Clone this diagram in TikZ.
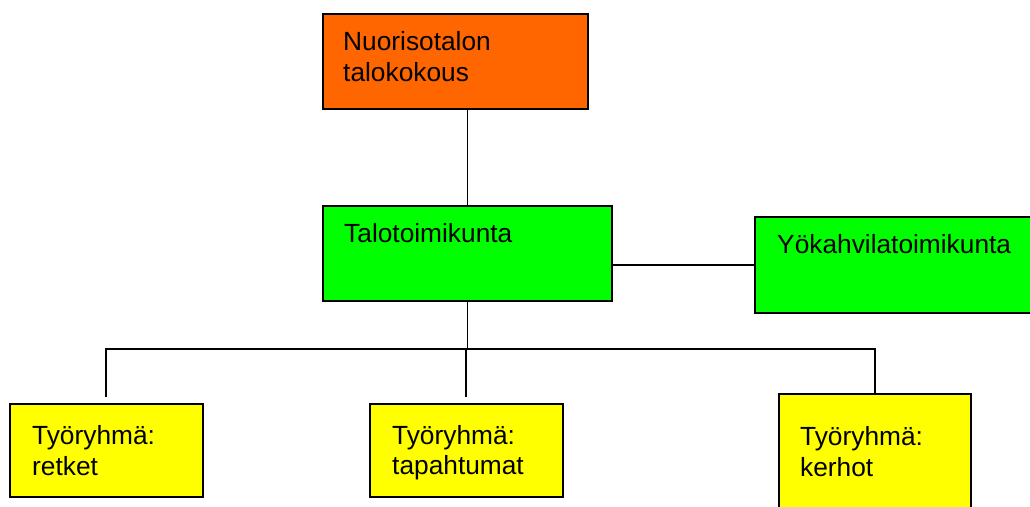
\documentclass[tikz,border=0pt]{standalone}
\usepackage{fontspec}
\setmainfont{Liberation Sans}
\definecolor{boxorange}{HTML}{FF6600}
\definecolor{boxgreen}{HTML}{00FF00}
\definecolor{boxyellow}{HTML}{FFFF00}
\tikzset{
  orgbox/.style={draw=black, line width=2pt, rectangle, anchor=north west, inner sep=0pt},
  lbl/.style={anchor=base west, inner sep=0pt, font=\fontsize{26.3}{31}\selectfont},
  conn/.style={draw=black, line width=1.8pt}
}
\begin{document}
\begin{tikzpicture}[x=1pt,y=-1pt]
\useasboundingbox (0,0) rectangle (1030,506);
\clip (0,0) rectangle (1030,506);
% boxes
\node[orgbox, fill=boxorange, minimum width=265pt, minimum height=95pt] (top) at (322,13) {};
\node[orgbox, fill=boxgreen, minimum width=289pt, minimum height=95pt] (talo) at (322,205) {};
\node[orgbox, fill=boxgreen, minimum width=300pt, minimum height=96pt] (yok) at (754,216) {};
\node[orgbox, fill=boxyellow, minimum width=193pt, minimum height=93pt] (ret) at (9,403) {};
\node[orgbox, fill=boxyellow, minimum width=193pt, minimum height=93pt] (tap) at (369,403) {};
\node[orgbox, fill=boxyellow, minimum width=192pt, minimum height=130pt] (ker) at (778,393) {};
% texts
\node[lbl] (t1a) at (343,50) {Nuorisotalon};
\node[lbl] (t1b) at (343,81) {talokokous};
\node[lbl] (t2) at (344,242) {Talotoimikunta};
\node[lbl] (t3) at (777,253) {Yökahvilatoimikunta};
\node[lbl] (t4a) at (32,444) {Työryhmä:};
\node[lbl] (t4b) at (32,475) {retket};
\node[lbl] (t5a) at (392,444) {Työryhmä:};
\node[lbl] (t5b) at (392,474) {tapahtumat};
\node[lbl] (t6a) at (800,445) {Työryhmä:};
\node[lbl] (t6b) at (800,476) {kerhot};
% connectors
\coordinate (bus) at (466,349);
\coordinate (retend) at (106,397);
\coordinate (tapend) at (466,397);
\draw[conn] (talo.north) -- (talo.north |- top.south);
\draw[conn] (yok.west) -- (yok.west -| talo.east);
\draw[conn] (talo.south) -- (talo.south |- bus);
\draw[conn] (retend) -- (retend |- bus) -- (ker.north |- bus) -- (ker.north);
\draw[conn] (tapend) -- (tapend |- bus);
\end{tikzpicture}
\end{document}
